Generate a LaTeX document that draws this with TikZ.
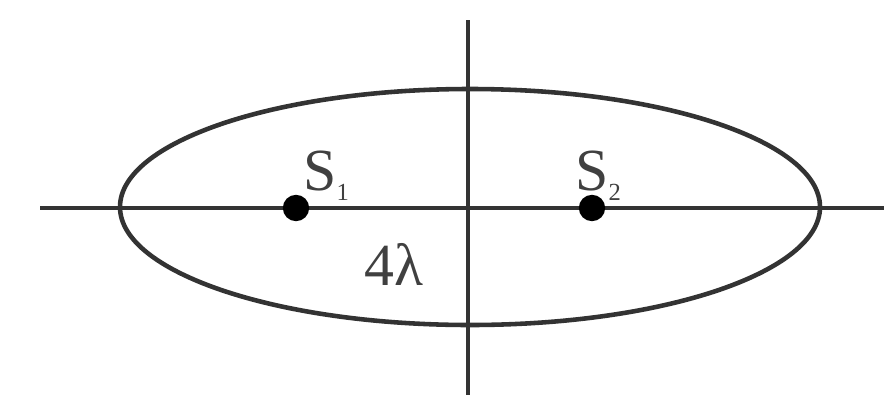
\documentclass[tikz,border=0pt]{standalone}
\usepackage{fontspec}
\setmainfont{Liberation Serif}
\colorlet{inkline}{black!80}

\begin{document}
\begin{tikzpicture}[x=0.02cm,y=-0.02cm,
    axis/.style={draw=inkline, line width=2.6pt},
    source/.style={circle, fill=black, inner sep=0pt, minimum size=15pt},
    lbl/.style={font=\fontsize{34}{40}\selectfont, text=black!75, inner sep=0pt}]
        \useasboundingbox (0,0) rectangle (884,399);
        % curve and axes
        \draw[axis] (470,207) ellipse [x radius=350, y radius=118];
        \draw[axis] (40,208) -- (884,208);
        \draw[axis] (468,20) -- (468,395);
        % the two sources
        \node[source] (s1) at (296,208) {};
        \node[source] (s2) at (592,208) {};
        \node[lbl, anchor=base west] at (303,190) {S\raisebox{-6pt}{\fontsize{14}{16}\selectfont 1}};
        \node[lbl, anchor=base west] at (575,190) {S\raisebox{-6pt}{\fontsize{14}{16}\selectfont 2}};
        \node[lbl, anchor=base west] at (364,285) {4λ};
    \end{tikzpicture}
\end{document}
